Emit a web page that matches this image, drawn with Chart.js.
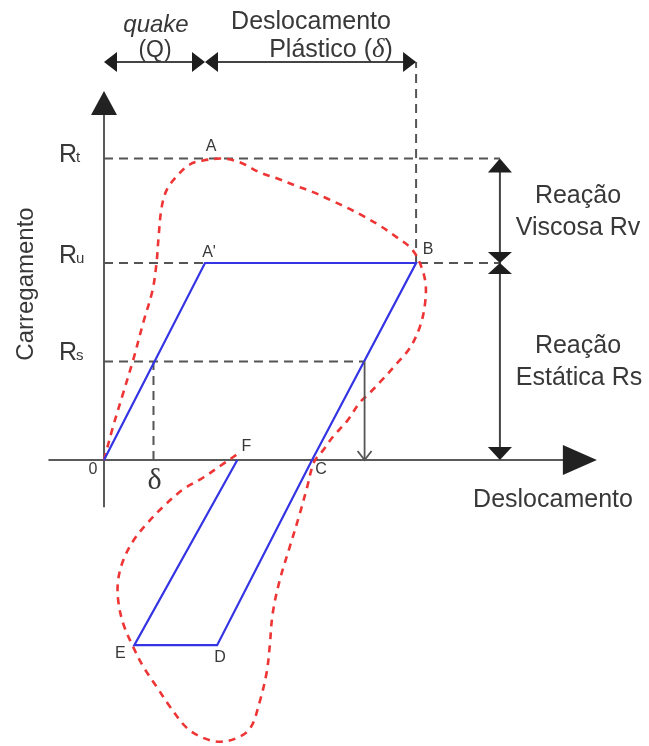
<!DOCTYPE html>
<html>
<head>
<meta charset="utf-8">
<script src="https://cdn.jsdelivr.net/npm/chart.js@4.4.1/dist/chart.umd.min.js"></script>
<style>
  html, body { margin: 0; padding: 0; background: #ffffff; }
  #wrap { width: 649px; height: 746px; }
</style>
</head>
<body>
<div id="wrap"><canvas id="c" width="649" height="746"></canvas></div>
<script>
// Smith pile-soil model: displacement in units of the quake Q, load in units of Ru.

// Dynamic (static + viscous) response, red dashed curve
const curveX = [0.00, 0.09, 0.19, 0.29, 0.39, 0.48, 0.52, 0.54, 0.57, 0.62, 0.72, 0.85, 0.98, 1.18, 1.35,
                1.54, 1.71, 1.91, 2.07, 2.24, 2.41, 2.56, 2.73, 2.90, 3.03, 3.11, 3.18, 3.18, 3.13, 3.03,
                2.90, 2.76, 2.63, 2.53, 2.41, 2.27, 2.17, 2.08, 2.01, 1.94, 1.84, 1.74, 1.67, 1.64,
                1.61, 1.54, 1.45, 1.32, 1.15, 0.98, 0.82, 0.65, 0.52, 0.39, 0.29, 0.19, 0.14, 0.14, 0.19,
                0.29, 0.43, 0.58, 0.78, 0.98, 1.18, 1.35];
const curveY = [0.00, 0.17, 0.34, 0.51, 0.70, 0.86, 1.00, 1.13, 1.28, 1.37, 1.44, 1.50, 1.52, 1.53, 1.51,
                1.46, 1.43, 1.39, 1.36, 1.32, 1.28, 1.24, 1.19, 1.13, 1.08, 1.02, 0.91, 0.80, 0.68, 0.57,
                0.49, 0.41, 0.34, 0.29, 0.20, 0.12, 0.05, -0.01, -0.14, -0.27, -0.44, -0.61, -0.78, -0.95,
                -1.08, -1.23, -1.36, -1.41, -1.43, -1.41, -1.36, -1.25, -1.15, -1.05, -0.95, -0.83, -0.71, -0.61, -0.51,
                -0.41, -0.32, -0.24, -0.15, -0.09, -0.02, 0.04];

// Static elasto-plastic path 0 - A' - B - C - D - E - F, blue line
const pathLabels = ['0', "A'", 'B', 'C', 'D', 'E', 'F'];
const pathX = [0.00, 1.00, 3.09, 2.06, 1.12, 0.30, 1.32];
const pathY = [0.00, 1.00, 1.00, 0.00, -0.94, -0.94, 0.00];

// Load levels on the vertical axis
const levelNames = ['R', 'R', 'R'];
const levelSubs = ['t', 'u', 's'];
const levelValues = [1.53, 1.00, 0.50];

// Characteristic displacements
const quake = 1.00;        // Q
const plasticEnd = 3.09;   // displacement at B
const deltaX = 0.49;       // displacement at Rs on loading
const rsUnloadX = 2.58;    // displacement at Rs on unloading
const peakX = 1.06;        // position of A
const dimX = 3.92;         // reaction dimension line
const dimTopY = 2.02;      // top dimension line

const ink = '#383838';
const sans = '"Liberation Sans", Arial, sans-serif';

const pts = (xs, ys) => xs.map((x, i) => ({ x: x, y: ys[i] }));
const seg = (x1, y1, x2, y2) => [{ x: x1, y: y1 }, { x: x2, y: y2 }];

const guideStyle = {
  borderColor: '#555555', borderWidth: 2, borderDash: [9, 6],
  pointRadius: 0, tension: 0, fill: false, order: 4
};

const datasets = [
  { data: pts(pathX, pathY), borderColor: '#3434e4', borderWidth: 2.2, pointRadius: 0, tension: 0, fill: false, order: 1 },
  { data: pts(curveX, curveY), borderColor: '#ee3535', borderWidth: 2.6, borderDash: [7, 6],
    pointRadius: 0, tension: 0.35, fill: false, order: 2 },
  Object.assign({ data: seg(0, levelValues[0], dimX, levelValues[0]) }, guideStyle),
  Object.assign({ data: seg(0, levelValues[1], dimX, levelValues[1]) }, guideStyle),
  Object.assign({ data: seg(0, levelValues[2], rsUnloadX, levelValues[2]) }, guideStyle),
  Object.assign({ data: seg(deltaX, 0, deltaX, levelValues[2]) }, guideStyle),
  Object.assign({ data: seg(plasticEnd, levelValues[1], plasticEnd, dimTopY) }, guideStyle)
];

function head(ctx, tx, ty, dir, len, half) {
  ctx.beginPath();
  ctx.moveTo(tx, ty);
  if (dir === 'up')    { ctx.lineTo(tx - half, ty + len); ctx.lineTo(tx + half, ty + len); }
  if (dir === 'down')  { ctx.lineTo(tx - half, ty - len); ctx.lineTo(tx + half, ty - len); }
  if (dir === 'left')  { ctx.lineTo(tx + len, ty - half); ctx.lineTo(tx + len, ty + half); }
  if (dir === 'right') { ctx.lineTo(tx - len, ty - half); ctx.lineTo(tx - len, ty + half); }
  ctx.closePath();
  ctx.fill();
}

function line(ctx, x1, y1, x2, y2) {
  ctx.beginPath(); ctx.moveTo(x1, y1); ctx.lineTo(x2, y2); ctx.stroke();
}

const diagram = {
  id: 'diagram',
  beforeDatasetsDraw(chart) {
    const ctx = chart.ctx, X = v => chart.scales.x.getPixelForValue(v), Y = v => chart.scales.y.getPixelForValue(v);
    ctx.save();
    ctx.strokeStyle = '#5a5a5a'; ctx.fillStyle = '#222'; ctx.lineWidth = 2;
    // axes
    line(ctx, X(-0.55), Y(0), X(4.6), Y(0));
    head(ctx, X(4.88), Y(0), 'right', 34, 15);
    line(ctx, X(0), Y(-0.24), X(0), Y(1.8));
    head(ctx, X(0), Y(1.873), 'up', 24, 13);
    ctx.restore();
  },
  afterDatasetsDraw(chart) {
    const ctx = chart.ctx, X = v => chart.scales.x.getPixelForValue(v), Y = v => chart.scales.y.getPixelForValue(v);
    ctx.save();
    ctx.strokeStyle = '#444'; ctx.fillStyle = '#1e1e1e'; ctx.lineWidth = 2;

    // top dimension lines: quake and plastic displacement
    const ty = Y(dimTopY);
    line(ctx, X(0) + 6, ty, X(quake) - 6, ty);
    line(ctx, X(quake) + 6, ty, X(plasticEnd) - 6, ty);
    head(ctx, X(0), ty, 'left', 13, 10);
    head(ctx, X(quake), ty, 'right', 13, 10);
    head(ctx, X(quake), ty, 'left', 13, 10);
    head(ctx, X(plasticEnd), ty, 'right', 13, 10);

    // reaction dimension lines
    const dx = X(dimX);
    line(ctx, dx, Y(levelValues[0]) + 6, dx, Y(0) - 6);
    head(ctx, dx, Y(levelValues[0]), 'up', 14, 12);
    head(ctx, dx, Y(levelValues[1]), 'down', 11, 12);
    head(ctx, dx, Y(levelValues[1]), 'up', 11, 12);
    head(ctx, dx, Y(0), 'down', 13, 12);

    // static reaction arrow from Rs down to the axis
    ctx.strokeStyle = '#555'; ctx.lineWidth = 1.8;
    const ax = X(rsUnloadX);
    line(ctx, ax, Y(levelValues[2]), ax, Y(0));
    ctx.beginPath();
    ctx.moveTo(ax - 7, Y(0) - 9); ctx.lineTo(ax, Y(0)); ctx.lineTo(ax + 7, Y(0) - 9);
    ctx.stroke();

    // texts
    ctx.fillStyle = ink;
    ctx.textBaseline = 'alphabetic';
    // load levels
    levelValues.forEach((v, i) => {
      const base = Y(v) + [3, 0, -2][i];
      ctx.textAlign = 'left';
      ctx.font = '25px ' + sans;
      ctx.fillText(levelNames[i], 59, base);
      const w = ctx.measureText(levelNames[i]).width;
      ctx.font = '15px ' + sans;
      ctx.fillText(levelSubs[i], 59 + w - 1, base);
    });

    // point labels
    ctx.font = '16px ' + sans;
    ctx.textAlign = 'center'; ctx.textBaseline = 'middle';
    const offs = [[-11, 10], [4, -10], [12, -13], [9, 10], [3, 12], [-14, 8], [9, -13]];
    pathLabels.forEach((t, i) => ctx.fillText(t, X(pathX[i]) + offs[i][0], Y(pathY[i]) + offs[i][1]));
    ctx.fillText('A', X(peakX), Y(levelValues[0]) - 12);

    // delta under the axis
    ctx.font = '30px "Liberation Serif", "DejaVu Serif", serif';
    ctx.textBaseline = 'alphabetic';
    ctx.fillText('δ', X(deltaX) + 1, Y(0) + 29);

    // axis titles
    ctx.font = '25px ' + sans;
    ctx.fillText('Deslocamento', 553, 507);
    ctx.save();
    ctx.translate(26, 284); ctx.rotate(-Math.PI / 2);
    ctx.font = '24px ' + sans; ctx.textBaseline = 'middle';
    ctx.fillText('Carregamento', 0, 0);
    ctx.restore();

    // reaction labels
    ctx.font = '25px ' + sans;
    ctx.fillText('Reação', 578, 203);
    ctx.fillText('Viscosa Rv', 578, 235);
    ctx.fillText('Reação', 578, 353);
    ctx.fillText('Estática Rs', 579, 385);

    // top labels
    ctx.font = 'italic 24px ' + sans;
    ctx.fillText('quake', 156, 32);
    ctx.font = '23px ' + sans;
    ctx.fillText('(Q)', 155, 57);
    ctx.font = '25px ' + sans;
    ctx.fillText('Deslocamento', 311, 29);
    // "Plástico (δ)" with an italic serif delta
    const parts = [['Plástico (', '25px ' + sans], ['δ', 'italic 27px "Liberation Serif", serif'], [')', '25px ' + sans]];
    let total = 0;
    parts.forEach(p => { ctx.font = p[1]; total += ctx.measureText(p[0]).width; });
    let cx = 331 - total / 2;
    ctx.textAlign = 'left';
    parts.forEach(p => { ctx.font = p[1]; ctx.fillText(p[0], cx, 57); cx += ctx.measureText(p[0]).width; });

    ctx.restore();
  }
};

new Chart(document.getElementById('c'), {
  type: 'line',
  data: { datasets: datasets },
  options: {
    responsive: false,
    animation: false,
    devicePixelRatio: 1,
    layout: { padding: 0 },
    plugins: { legend: { display: false }, tooltip: { enabled: false } },
    scales: {
      x: { type: 'linear', display: false, min: -104 / 101, max: 545 / 101 },
      y: { type: 'linear', display: false, min: -286 / 197, max: 460 / 197 }
    }
  },
  plugins: [diagram]
});
</script>
</body>
</html>
